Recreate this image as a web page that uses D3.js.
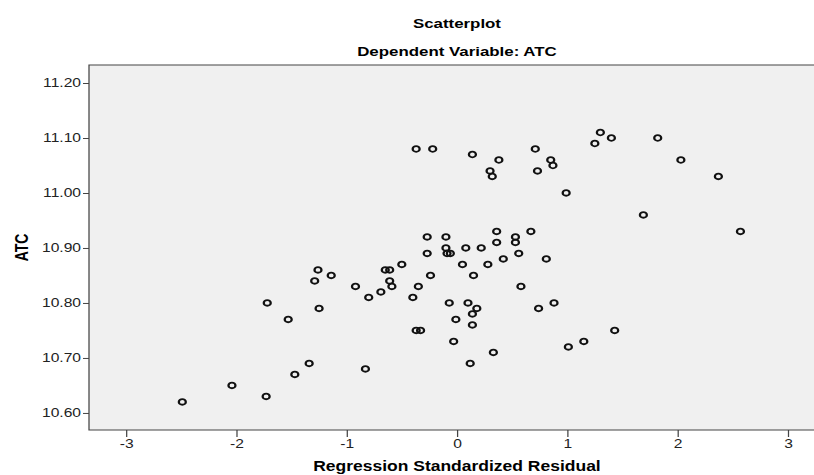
<!DOCTYPE html>
<html>
<head>
<meta charset="utf-8">
<script src="https://cdn.jsdelivr.net/npm/d3@7"></script>
<style>
  body { margin: 0; background: #fff; }
  text { font-family: "Liberation Sans", Arial, sans-serif; }
</style>
</head>
<body>
<svg id="chart"></svg>
<script>
// regression standardized residual (x) and ATC (y)
const resid = [
  -2.49, -2.04, -1.73, -1.72, -1.53, -1.47, -1.34, -1.26, -1.29, -1.25,
  -1.14, -0.92, -0.83, -0.80, -0.69, -0.65, -0.61, -0.61, -0.59, -0.50,
  -0.40, -0.35, -0.37, -0.33, -0.37, -0.22, -0.27, -0.27, -0.24, -0.10,
  -0.10, -0.09, -0.06, -0.07, -0.03, -0.01, 0.05, 0.08, 0.10, 0.12,
  0.14, 0.14, 0.14, 0.15, 0.18, 0.22, 0.28, 0.30, 0.32, 0.33,
  0.36, 0.36, 0.38, 0.42, 0.53, 0.53, 0.56, 0.58, 0.67, 0.71,
  0.73, 0.74, 0.81, 0.85, 0.87, 0.88, 0.99, 1.01, 1.15, 1.25,
  1.30, 1.40, 1.43, 1.69, 1.82, 2.03, 2.37, 2.57
];
const atc = [
  10.62, 10.65, 10.63, 10.80, 10.77, 10.67, 10.69, 10.86, 10.84, 10.79,
  10.85, 10.83, 10.68, 10.81, 10.82, 10.86, 10.86, 10.84, 10.83, 10.87,
  10.81, 10.83, 10.75, 10.75, 11.08, 11.08, 10.92, 10.89, 10.85, 10.92,
  10.90, 10.89, 10.89, 10.80, 10.73, 10.77, 10.87, 10.90, 10.80, 10.69,
  11.07, 10.78, 10.76, 10.85, 10.79, 10.90, 10.87, 11.04, 11.03, 10.71,
  10.93, 10.91, 11.06, 10.88, 10.92, 10.91, 10.89, 10.83, 10.93, 11.08,
  11.04, 10.79, 10.88, 11.06, 11.05, 10.80, 11.00, 10.72, 10.73, 11.09,
  11.11, 11.10, 10.75, 10.96, 11.10, 11.06, 11.03, 10.93
];
const xTicks = [-3, -2, -1, 0, 1, 2, 3];
const yTicks = [10.6, 10.7, 10.8, 10.9, 11.0, 11.1, 11.2];

const W = 814, H = 475;
const SX = 1.25; // the source image is stretched sideways, so draw narrow and stretch
const VW = W / SX;

const svg = d3.select('#chart')
  .attr('width', W)
  .attr('height', H)
  .attr('viewBox', `0 0 ${VW} ${H}`)
  .attr('preserveAspectRatio', 'none');

const plotL = 89 / SX, plotR = 816 / SX, plotT = 65, plotB = 430;

const x = d3.scaleLinear().domain([-3.336, 3.255]).range([plotL, plotR]);
const y = d3.scaleLinear().domain([10.569, 11.2327]).range([plotB, plotT]);

// titles
svg.append('text')
  .attr('x', x(0)).attr('y', 28)
  .attr('text-anchor', 'middle')
  .attr('font-size', 13.5).attr('font-weight', 'bold')
  .text('Scatterplot');
svg.append('text')
  .attr('x', x(0)).attr('y', 56)
  .attr('text-anchor', 'middle')
  .attr('font-size', 13.5).attr('font-weight', 'bold')
  .text('Dependent Variable: ATC');

// plot frame
svg.append('rect')
  .attr('x', plotL).attr('y', plotT)
  .attr('width', plotR - plotL).attr('height', plotB - plotT)
  .attr('fill', '#f0f0f0')
  .attr('stroke', '#444')
  .attr('stroke-width', 1);

// axes
const yAxis = svg.append('g')
  .attr('transform', `translate(${plotL},0)`)
  .call(d3.axisLeft(y).tickValues(yTicks).tickFormat(d3.format('.2f')).tickSize(6 / SX).tickSizeOuter(0).tickPadding(2 / SX));
const xAxis = svg.append('g')
  .attr('transform', `translate(0,${plotB})`)
  .call(d3.axisBottom(x).tickValues(xTicks).tickFormat(d3.format('d')).tickSize(7).tickSizeOuter(0).tickPadding(2));

[yAxis, xAxis].forEach(g => {
  g.select('.domain').remove();
  g.selectAll('line').attr('stroke', '#444');
  g.selectAll('text')
    .attr('font-family', '"Liberation Sans", Arial, sans-serif')
    .attr('font-size', 12.5)
    .attr('fill', '#222');
});
xAxis.selectAll('.tick text').text(d => d < 0 ? '-' + Math.abs(d) : d);

// axis titles
svg.append('text')
  .attr('x', x(0)).attr('y', 471)
  .attr('text-anchor', 'middle')
  .attr('font-size', 14).attr('font-weight', 'bold')
  .text('Regression Standardized Residual');
svg.append('text')
  .attr('transform', `translate(${22 / SX},${(plotT + plotB) / 2}) rotate(-90)`)
  .attr('text-anchor', 'middle')
  .attr('dy', '0.35em')
  .attr('font-size', 14).attr('font-weight', 'bold')
  .text('ATC');

// points
svg.append('g')
  .selectAll('circle')
  .data(resid.map((r, i) => ({ r, v: atc[i] })))
  .join('circle')
  .attr('cx', d => x(d.r))
  .attr('cy', d => y(d.v))
  .attr('r', 2.8)
  .attr('fill', 'none')
  .attr('stroke', '#111')
  .attr('stroke-width', 1.8);
</script>
</body>
</html>
